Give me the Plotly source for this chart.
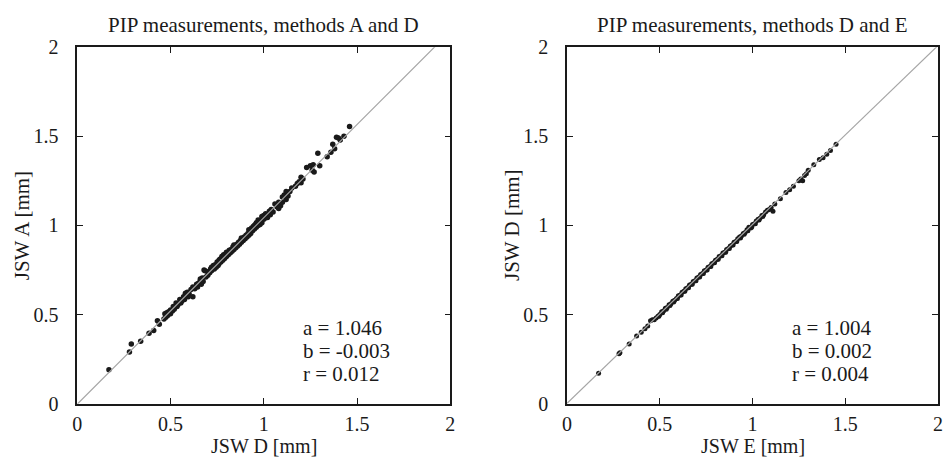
import plotly.graph_objects as go

# ---------------- data: left panel (x = JSW D, y = JSW A) ----------------
jsw_d_left = [
    0.17, 0.28, 0.29, 0.34, 0.385, 0.41, 0.43, 0.44, 0.465, 0.47, 0.475,
    0.48, 0.485, 0.49, 0.50, 0.50, 0.51, 0.515, 0.52, 0.53, 0.535, 0.54, 0.55, 0.555, 0.56,
    0.57, 0.575, 0.58, 0.59, 0.595, 0.60, 0.61, 0.62, 0.62, 0.63, 0.64, 0.645, 0.65, 0.66,
    0.665, 0.67, 0.675, 0.68, 0.685, 0.69, 0.70, 0.70, 0.71, 0.715, 0.72, 0.725, 0.73, 0.735,
    0.74, 0.745, 0.75, 0.755, 0.76, 0.765, 0.77, 0.775, 0.78, 0.785, 0.79, 0.795, 0.80, 0.805,
    0.81, 0.815, 0.82, 0.825, 0.83, 0.835, 0.84, 0.845, 0.85, 0.855, 0.86, 0.865, 0.87, 0.875,
    0.88, 0.885, 0.89, 0.895, 0.90, 0.905, 0.91, 0.915, 0.92, 0.925, 0.93, 0.935, 0.94, 0.945,
    0.95, 0.955, 0.96, 0.965, 0.97, 0.975, 0.98, 0.985, 0.99, 1.00, 1.00, 1.005,
    1.01, 1.02, 1.03, 1.04, 1.05, 1.06, 1.07, 1.08, 1.09, 1.10, 1.10, 1.11, 1.12, 1.13, 1.14,
    1.15, 1.17, 1.18, 1.19, 1.20, 1.20, 1.21, 1.23, 1.25, 1.26, 1.265, 1.27, 1.29, 1.30, 1.34,
    1.36, 1.37, 1.38, 1.39, 1.40, 1.41, 1.43, 1.46, 1.12, 1.08, 1.035, 0.99, 0.97, 0.95,
    0.72, 0.76, 0.80, 0.84, 0.88, 0.92, 0.96, 0.66, 0.58,
]
jsw_a = [
    0.19, 0.29, 0.335, 0.35, 0.395, 0.41, 0.465, 0.445, 0.475, 0.505, 0.485,
    0.51, 0.495, 0.515, 0.505, 0.525, 0.52, 0.545, 0.53, 0.565, 0.545, 0.555, 0.585, 0.565, 0.575,
    0.60, 0.585, 0.61, 0.625, 0.60, 0.615, 0.64, 0.60, 0.655, 0.645, 0.67, 0.655, 0.675, 0.69,
    0.67, 0.705, 0.685, 0.75, 0.745, 0.71, 0.72, 0.74, 0.735, 0.755, 0.745, 0.76, 0.775, 0.755,
    0.78, 0.765, 0.795, 0.775, 0.785, 0.81, 0.795, 0.825, 0.805, 0.835, 0.815, 0.84, 0.825, 0.845,
    0.835, 0.86, 0.845, 0.865, 0.855, 0.88, 0.865, 0.885, 0.875, 0.895, 0.885, 0.905, 0.895, 0.915,
    0.905, 0.925, 0.915, 0.935, 0.925, 0.945, 0.935, 0.955, 0.945, 0.965, 0.955, 0.985, 0.97, 0.995,
    0.98, 1.005, 0.99, 1.01, 1.0, 1.02, 1.005, 1.03, 1.015, 1.035, 1.055, 1.04,
    1.065, 1.045, 1.08, 1.09, 1.075, 1.12, 1.105, 1.13, 1.11, 1.13, 1.16, 1.17, 1.19, 1.165, 1.19,
    1.21, 1.22, 1.235, 1.245, 1.27, 1.24, 1.26, 1.325, 1.335, 1.31, 1.34, 1.30, 1.405, 1.335, 1.385,
    1.41, 1.455, 1.43, 1.495, 1.49, 1.48, 1.50, 1.555, 1.145, 1.095, 1.06, 1.05, 1.03, 1.0,
    0.765, 0.805, 0.85, 0.89, 0.93, 0.975, 1.015, 0.70, 0.62,
]

# ---------------- data: right panel (x = JSW E, y = JSW D) ----------------
jsw_e = [
    0.17, 0.28, 0.285, 0.335, 0.375, 0.40, 0.42, 0.435, 0.45, 0.46, 0.47,
    0.48, 0.49, 0.50, 0.51, 0.52, 0.53, 0.54, 0.55, 0.56, 0.57, 0.58, 0.59, 0.60, 0.61,
    0.62, 0.63, 0.64, 0.65, 0.66, 0.67, 0.68, 0.69, 0.70, 0.71, 0.72, 0.73, 0.74, 0.75,
    0.76, 0.77, 0.78, 0.79, 0.80, 0.81, 0.82, 0.83, 0.84, 0.85, 0.86, 0.87, 0.88, 0.89,
    0.90, 0.91, 0.92, 0.93, 0.94, 0.95, 0.96, 0.97, 0.98, 0.99, 1.00, 1.01, 1.02, 1.03,
    1.04, 1.05, 1.06, 1.07, 1.08, 1.09,
    0.495, 0.515, 0.535, 0.555, 0.575, 0.595, 0.615, 0.635, 0.655, 0.675, 0.695, 0.715,
    0.735, 0.755, 0.775, 0.795, 0.815, 0.835, 0.855, 0.875, 0.895, 0.915, 0.935, 0.955,
    0.975, 0.995, 1.015, 1.035, 1.055,
    1.10, 1.11, 1.12, 1.15, 1.18, 1.20, 1.22, 1.25, 1.26, 1.27, 1.28, 1.29, 1.30,
    1.33, 1.36, 1.38, 1.40, 1.42, 1.45,
]
jsw_d_right = [
    0.17, 0.28, 0.285, 0.335, 0.38, 0.40, 0.42, 0.435, 0.465, 0.47, 0.47,
    0.48, 0.49, 0.50, 0.515, 0.52, 0.535, 0.54, 0.555, 0.56, 0.575, 0.58, 0.59, 0.605, 0.61,
    0.625, 0.63, 0.645, 0.65, 0.665, 0.67, 0.685, 0.69, 0.705, 0.71, 0.725, 0.73, 0.745, 0.75,
    0.765, 0.77, 0.785, 0.79, 0.805, 0.81, 0.825, 0.83, 0.845, 0.85, 0.865, 0.87, 0.885, 0.89,
    0.905, 0.91, 0.925, 0.935, 0.94, 0.955, 0.96, 0.975, 0.99, 0.985, 1.005, 1.01, 1.025, 1.035,
    1.04, 1.055, 1.06, 1.075, 1.085, 1.09,
    0.49, 0.51, 0.53, 0.55, 0.57, 0.59, 0.61, 0.63, 0.65, 0.67, 0.69, 0.71,
    0.73, 0.75, 0.77, 0.79, 0.81, 0.83, 0.85, 0.87, 0.89, 0.91, 0.93, 0.95,
    0.97, 0.99, 1.01, 1.03, 1.05,
    1.10, 1.08, 1.12, 1.15, 1.185, 1.20, 1.22, 1.25, 1.26, 1.25, 1.28, 1.29, 1.31,
    1.34, 1.37, 1.38, 1.40, 1.42, 1.455,
]

# regression parameters shown in the panels
params_left = {"a": 1.046, "b": -0.003, "r": 0.012}
params_right = {"a": 1.004, "b": 0.002, "r": 0.004}

titles = ["PIP measurements, methods A and D", "PIP measurements, methods D and E"]
x_titles = ["JSW D [mm]", "JSW E [mm]"]
y_titles = ["JSW A [mm]", "JSW D [mm]"]
tick_vals = [0, 0.5, 1, 1.5, 2]
tick_text = ["0", "0.5", "1", "1.5", "2"]
line_x = [0, 2]

FONT = "Liberation Serif"
FS = 20
W, H = 952, 468

# panel pixel boxes (left, right, top, bottom)
boxes = [(73, 450, 38, 412), (568, 943, 38, 412)]

fig = go.Figure()

panels = [
    (jsw_d_left, jsw_a, params_left, 5.5),
    (jsw_e, jsw_d_right, params_right, 5),
]

for i, (xs, ys, p, msize) in enumerate(panels):
    ax = "" if i == 0 else str(i + 1)
    fig.add_trace(go.Scatter(
        x=xs, y=ys, mode="markers", xaxis="x" + ax, yaxis="y" + ax,
        marker=dict(color="#1a1a1a", size=msize, line=dict(width=0)),
        showlegend=False, hoverinfo="skip"))
    fig.add_trace(go.Scatter(
        x=line_x, y=[p["a"] * v + p["b"] for v in line_x], mode="lines",
        xaxis="x" + ax, yaxis="y" + ax,
        line=dict(color="#a6a6a6", width=1.2), showlegend=False, hoverinfo="skip"))

layout = dict(
    width=W, height=H, margin=dict(l=0, r=0, t=0, b=0),
    paper_bgcolor="white", plot_bgcolor="white",
    font=dict(family=FONT, size=FS, color="#1a1a1a"),
)

annotations = []
for i, (l, r, t, b) in enumerate(boxes):
    ax = "" if i == 0 else str(i + 1)
    axis_common = dict(
        range=[0, 2], tickvals=tick_vals, ticktext=tick_text,
        ticks="inside", ticklen=6, tickwidth=1, tickcolor="#1a1a1a",
        showline=True, linecolor="#1a1a1a", linewidth=1.5, mirror="ticks",
        showgrid=False, zeroline=False,
        tickfont=dict(family=FONT, size=FS, color="#1a1a1a"),
    )
    layout["xaxis" + ax] = dict(axis_common, domain=[l / W, r / W],
                                anchor="y" + ax, ticklabelstandoff=2)
    layout["yaxis" + ax] = dict(axis_common, domain=[1 - b / H, 1 - t / H],
                                anchor="x" + ax, ticklabelstandoff=13)
    # panel title
    annotations.append(dict(
        text=titles[i], xref="paper", yref="paper",
        x=(l + r) / 2 / W, y=1 - 15 / H, xanchor="center", yanchor="middle",
        showarrow=False, font=dict(family=FONT, size=FS + 1)))
    # x-axis title
    annotations.append(dict(
        text=x_titles[i], xref="paper", yref="paper",
        x=(l + r) / 2 / W, y=1 - 456 / H, xanchor="center", yanchor="middle",
        showarrow=False, font=dict(family=FONT, size=FS)))
    # y-axis title
    annotations.append(dict(
        text=y_titles[i], xref="paper", yref="paper", textangle=-90,
        x=(l - 55) / W, y=1 - (t + b) / 2 / H, xanchor="center", yanchor="middle",
        showarrow=False, font=dict(family=FONT, size=FS + 1)))
    p = [params_left, params_right][i]
    labels = [f"a = {p['a']:.3f}", f"b = {p['b']:.3f}", f"r = {p['r']:.3f}"]
    for txt, yv in zip(labels, [0.422, 0.294, 0.166]):
        annotations.append(dict(
            text=txt, xref="x" + ax, yref="y" + ax, x=1.2, y=yv,
            xanchor="left", yanchor="middle", showarrow=False,
            font=dict(family=FONT, size=FS + 1)))

layout["annotations"] = annotations
fig.update_layout(**layout)
fig.write_html(
    "out.html",
    config={"displayModeBar": False},
    post_script="document.body.style.margin='0';document.body.style.overflow='hidden';",
)
